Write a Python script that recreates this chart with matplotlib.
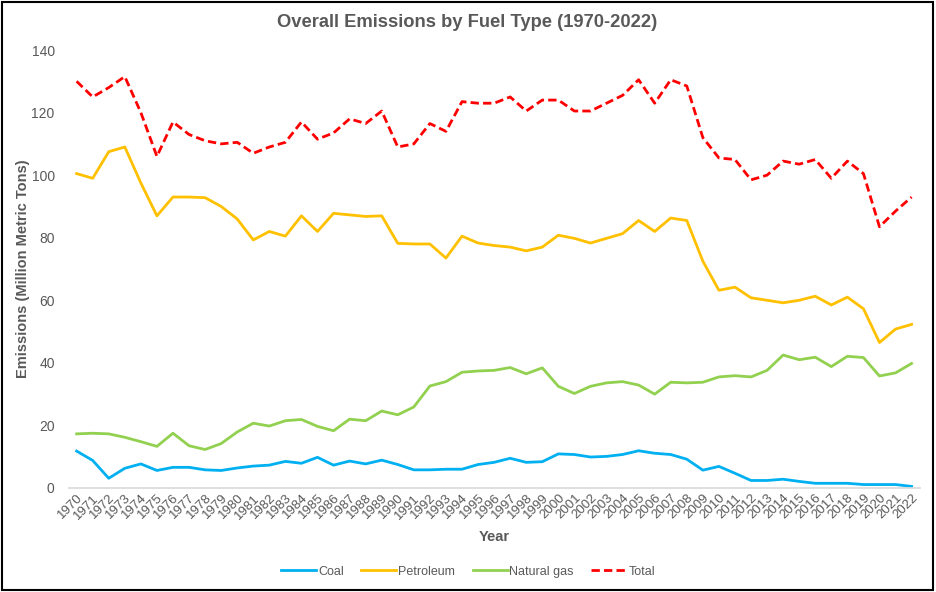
import matplotlib
matplotlib.use("Agg")
import matplotlib.pyplot as plt
from matplotlib.patches import Rectangle
import numpy as np

plt.rcParams['font.family'] = ['Liberation Sans', 'DejaVu Sans']

years = np.arange(1970, 2023)

coal = [11.8, 8.8, 3.1, 6.3, 7.7, 5.6, 6.6, 6.6, 5.8, 5.6,
        6.4, 7.0, 7.3, 8.5, 7.9, 9.8, 7.3, 8.6, 7.7, 8.9,
        7.5, 5.8, 5.8, 6.0, 6.0, 7.5, 8.2, 9.5, 8.2, 8.4,
        10.9, 10.7, 9.9, 10.1, 10.7, 11.9, 11.1, 10.7, 9.2, 5.7,
        6.9, 4.7, 2.4, 2.4, 2.8, 2.1, 1.5, 1.5, 1.5, 1.1,
        1.1, 1.1, 0.5]

petroleum = [100.5, 99.0, 107.5, 109.0, 97.5, 87.0, 93.0, 93.0, 92.8, 90.0,
             86.0, 79.3, 82.0, 80.5, 87.0, 82.0, 87.8, 87.3, 86.8, 87.0,
             78.2, 78.0, 78.0, 73.5, 80.5, 78.3, 77.5, 77.0, 75.8, 77.0,
             80.8, 79.8, 78.3, 79.8, 81.3, 85.5, 82.0, 86.3, 85.5, 72.5,
             63.2, 64.2, 60.8, 60.0, 59.2, 60.0, 61.3, 58.5, 61.0, 57.3,
             46.5, 50.8, 52.3]

natural_gas = [17.3, 17.5, 17.3, 16.2, 14.8, 13.3, 17.5, 13.5, 12.3, 14.2,
               17.9, 20.7, 19.8, 21.5, 21.9, 19.7, 18.3, 22.0, 21.5, 24.6,
               23.4, 25.9, 32.6, 34.0, 37.0, 37.4, 37.6, 38.5, 36.5, 38.4,
               32.5, 30.2, 32.5, 33.6, 34.0, 32.9, 30.0, 33.8, 33.6, 33.8,
               35.5, 35.9, 35.5, 37.6, 42.5, 41.0, 41.8, 38.8, 42.1, 41.7,
               35.8, 36.8, 39.8]

total = [130.0, 125.0, 128.0, 131.5, 120.0, 106.0, 117.0, 113.0, 111.0, 110.0,
         110.5, 107.0, 109.0, 110.5, 117.0, 111.5, 113.5, 118.0, 116.5, 120.5,
         109.0, 110.0, 116.5, 114.0, 123.5, 123.0, 123.0, 125.0, 120.5, 124.0,
         124.0, 120.5, 120.5, 123.0, 125.5, 130.5, 123.0, 130.5, 128.5, 112.0,
         105.5, 105.0, 98.5, 100.0, 104.5, 103.5, 105.0, 99.0, 104.5, 100.5,
         83.5, 88.5, 93.0]

grey = '#595959'

fig = plt.figure(figsize=(9.36, 5.92), dpi=100)
ax = fig.add_axes([0.0733, 0.1757, 0.9092, 0.7398])

ax.plot(years, coal, color='#00B0F0', lw=2, label='Coal')
ax.plot(years, petroleum, color='#FFC000', lw=2, label='Petroleum')
ax.plot(years, natural_gas, color='#92D050', lw=2, label='Natural gas')
ax.plot(years, total, color='#FF0000', lw=2, ls=(0, (3, 1.5)), label='Total')

ax.set_xlim(1969.5, 2022.5)
ax.set_ylim(0, 140)
ax.set_yticks(range(0, 141, 20))
ax.set_xticks(years)
ax.set_xticklabels([str(y) for y in years], rotation=45, ha='right',
                   rotation_mode='anchor', fontsize=9.5, color=grey)
ax.tick_params(axis='y', length=0, labelsize=10, labelcolor=grey, pad=10)
ax.tick_params(axis='x', length=0, pad=3)

for s in ['top', 'right', 'left']:
    ax.spines[s].set_visible(False)
ax.spines['bottom'].set_color('#D9D9D9')
ax.spines['bottom'].set_linewidth(1.2)

fig.text(0.499, 0.962, 'Overall Emissions by Fuel Type (1970-2022)', fontsize=13.2,
         fontweight='bold', color=grey, ha='center', va='center')
ax.set_ylabel('Emissions (Million Metric Tons)', fontsize=10.5,
              fontweight='bold', color=grey, labelpad=1)
ax.set_xlabel('Year', fontsize=10.5, fontweight='bold', color=grey, labelpad=6)

leg = fig.legend(loc='center', bbox_to_anchor=(0.5, 0.034), ncol=4,
                 frameon=False, fontsize=9, handlelength=2.8,
                 columnspacing=1.4, handletextpad=0.15)
for t in leg.get_texts():
    t.set_color(grey)

fig.patches.append(Rectangle((0.002, 0.003), 0.995, 0.994, transform=fig.transFigure,
                             fill=False, edgecolor='black', lw=1.5))

fig.savefig('out.png', dpi=100)
